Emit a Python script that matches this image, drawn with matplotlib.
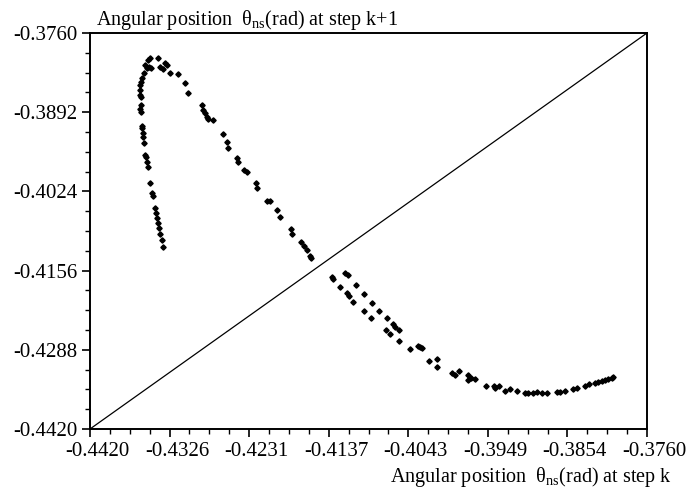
import matplotlib
matplotlib.use("Agg")
import matplotlib.pyplot as plt
import numpy as np
from matplotlib.ticker import FixedLocator, AutoMinorLocator
from matplotlib.transforms import ScaledTranslation

# police type Times
plt.rcParams['font.family'] = ['Liberation Serif', 'DejaVu Serif']
plt.rcParams['mathtext.fontset'] = 'custom'
plt.rcParams['mathtext.rm'] = 'Liberation Serif'
plt.rcParams['mathtext.it'] = 'Liberation Serif:italic'

# points du diagramme de retour (theta_k, theta_k+1)
theta_k = [
    -0.43331, -0.43350, -0.43371, -0.43382, -0.43398, -0.43410, -0.43422, -0.43430,
    -0.43457, -0.43469, -0.43489, -0.43516, -0.43528, -0.43536, -0.43545, -0.43560,
    -0.43568, -0.43576, -0.43580, -0.43587, -0.43596, -0.43604, -0.43596, -0.43599,
    -0.43608, -0.43608, -0.43608, -0.43599, -0.43580, -0.43557, -0.43528, -0.43548,
    -0.43497, -0.43481, -0.43509, -0.43489, -0.43398, -0.43371, -0.43331, -0.43311,
    -0.43284, -0.43252, -0.43161, -0.43074, -0.43035, -0.42869, -0.42858, -0.42837,
    -0.42817, -0.42798, -0.42746, -0.42628, -0.42580, -0.42561, -0.42462, -0.42443,
    -0.42372, -0.42343, -0.42237, -0.42218, -0.42099, -0.42067, -0.41988, -0.41949,
    -0.41822, -0.41810, -0.41700, -0.41661, -0.41632, -0.41593, -0.41581, -0.41336,
    -0.41324, -0.41179, -0.41147, -0.41238, -0.41048, -0.41158, -0.41128, -0.41080,
    -0.40953, -0.40862, -0.40953, -0.40776, -0.40874, -0.40684, -0.40606, -0.40586,
    -0.40535, -0.40693, -0.40645, -0.40535, -0.40408, -0.40310, -0.40290, -0.40263,
    -0.40183, -0.40085, -0.40085, -0.39914, -0.39875, -0.39824, -0.39725, -0.39718,
    -0.39689, -0.39638, -0.39511, -0.39409, -0.39401, -0.39350, -0.39283, -0.39223,
    -0.39144, -0.39046, -0.39007, -0.38947, -0.38900, -0.38848, -0.38789, -0.38670,
    -0.38631, -0.38572, -0.38473, -0.38426, -0.38335, -0.38284, -0.38216, -0.38177,
    -0.38137, -0.38098, -0.38059, -0.38018, -0.37999,
]
theta_k1 = [
    -0.41172, -0.41050, -0.40950, -0.40855, -0.40772, -0.40688, -0.40605, -0.40522,
    -0.40317, -0.40272, -0.40095, -0.39828, -0.39745, -0.39662, -0.39633, -0.39428,
    -0.39338, -0.39272, -0.39188, -0.39150, -0.38912, -0.38872, -0.38800, -0.38672,
    -0.38633, -0.38550, -0.38467, -0.38412, -0.38355, -0.38262, -0.38188, -0.38133,
    -0.38162, -0.38188, -0.38050, -0.38022, -0.38022, -0.38162, -0.38205, -0.38105,
    -0.38133, -0.38272, -0.38283, -0.38438, -0.38595, -0.38800, -0.38883, -0.38938,
    -0.38995, -0.39038, -0.39050, -0.39283, -0.39412, -0.39512, -0.39688, -0.39745,
    -0.39883, -0.39912, -0.40095, -0.40188, -0.40400, -0.40400, -0.40550, -0.40662,
    -0.40867, -0.40950, -0.41078, -0.41150, -0.41217, -0.41317, -0.41355, -0.41672,
    -0.41705, -0.41595, -0.41633, -0.41828, -0.41800, -0.41938, -0.41983, -0.42078,
    -0.41950, -0.42105, -0.42233, -0.42228, -0.42345, -0.42355, -0.42455, -0.42495,
    -0.42550, -0.42550, -0.42622, -0.42733, -0.42867, -0.42812, -0.42828, -0.42855,
    -0.43067, -0.43033, -0.43162, -0.43272, -0.43300, -0.43233, -0.43300, -0.43383,
    -0.43345, -0.43372, -0.43483, -0.43483, -0.43522, -0.43483, -0.43562, -0.43538,
    -0.43562, -0.43605, -0.43605, -0.43595, -0.43588, -0.43605, -0.43605, -0.43578,
    -0.43578, -0.43562, -0.43538, -0.43522, -0.43483, -0.43455, -0.43428, -0.43412,
    -0.43395, -0.43383, -0.43367, -0.43345, -0.43328,
]

xmin, xmax = -0.4420, -0.3760
xticks = [-0.4420, -0.4326, -0.4231, -0.4137, -0.4043, -0.3949, -0.3854, -0.3760]
yticks = [-0.4420, -0.4288, -0.4156, -0.4024, -0.3892, -0.3760]

fig = plt.figure(figsize=(6.93, 4.95), dpi=100)
ax = fig.add_axes([90 / 693, 66 / 495, 557 / 693, 396 / 495])

# premiere bissectrice
ax.plot([xmin, xmax], [xmin, xmax], color='black', lw=0.9)
ax.plot(theta_k, theta_k1, linestyle='none', marker='D', markersize=2.7,
        color='black', clip_on=False)

ax.set_xlim(xmin, xmax)
ax.set_ylim(xmin, xmax)
ax.xaxis.set_major_locator(FixedLocator(np.linspace(xmin, xmax, 8)))
ax.yaxis.set_major_locator(FixedLocator(np.linspace(xmin, xmax, 6)))
ax.set_xticklabels(['%.4f' % t for t in xticks])
ax.set_yticklabels(['%.4f' % t for t in yticks])
ax.xaxis.set_minor_locator(AutoMinorLocator(4))
ax.yaxis.set_minor_locator(AutoMinorLocator(4))
ax.tick_params(which='major', direction='out', length=6, width=1.2,
               labelsize=15, colors='black', pad=3)
ax.tick_params(which='minor', direction='out', length=3.5, width=1.0)
ax.tick_params(top=False, right=False)
for s in ax.spines.values():
    s.set_linewidth(1.4)

# les etiquettes de l'axe x sont decalees un peu a droite
decal = ScaledTranslation(7.5 / 100, 0, fig.dpi_scale_trans)
for lab in ax.get_xticklabels():
    lab.set_transform(lab.get_transform() + decal)

fig.text(96 / 693, 1 - 25 / 495,
         'Angular position  θ$_{\\mathrm{ns}}$(rad) at step k+1',
         fontsize=14.5, ha='left', va='baseline')
fig.text(672 / 693, 1 - 482 / 495,
         'Angular position  θ$_{\\mathrm{ns}}$(rad) at step k',
         fontsize=14.5, ha='right', va='baseline')

plt.savefig('out.png', dpi=100)
